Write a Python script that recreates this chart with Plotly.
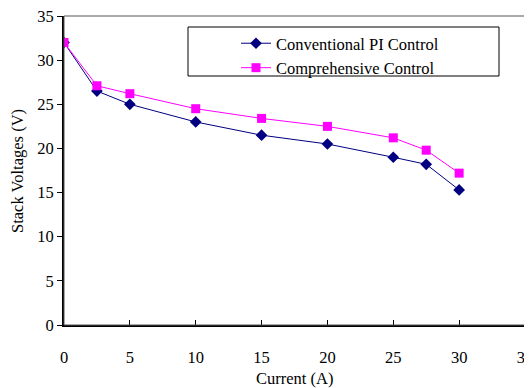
import plotly.graph_objects as go

current = [0, 2.5, 5, 10, 15, 20, 25, 27.5, 30]
conventional_pi = [32.0, 26.5, 25.0, 23.0, 21.5, 20.5, 19.0, 18.2, 15.3]
comprehensive = [32.0, 27.1, 26.2, 24.5, 23.4, 22.5, 21.2, 19.8, 17.2]
x_ticks = [0, 5, 10, 15, 20, 25, 30, 35]
y_ticks = [0, 5, 10, 15, 20, 25, 30, 35]

FONT = "Liberation Serif"
FS = 16.5

# page body has an 8px margin; work in screen coords minus 8
OFF = 8
L, R, T, B = 64 - OFF, 525 - OFF, 16 - OFF, 325 - OFF
W, H = 532, 388 - OFF

def px(sx):
    return (sx - OFF - L) / (R - L)

def py(sy):
    return (B - (sy - OFF)) / (B - T)

fig = go.Figure()
fig.add_trace(go.Scatter(
    x=current, y=conventional_pi, mode="lines+markers",
    name="Conventional PI Control",
    line=dict(color="#000080", width=1),
    marker=dict(symbol="diamond", size=9, color="#000080"),
))
fig.add_trace(go.Scatter(
    x=current, y=comprehensive, mode="lines+markers",
    name="Comprehensive Control",
    line=dict(color="#FF00FF", width=1),
    marker=dict(symbol="square", size=9, color="#FF00FF"),
))

fig.update_layout(
    width=W, height=H,
    margin=dict(l=L, r=W - R, t=T, b=H - B, autoexpand=False),
    paper_bgcolor="white", plot_bgcolor="white",
    font=dict(family=FONT, size=FS, color="black"),
    showlegend=True,
    legend=dict(
        x=px(236), y=py(26), xanchor="left", yanchor="top",
        bgcolor="rgba(0,0,0,0)", borderwidth=0,
        font=dict(family=FONT, size=FS, color="black"),
    ),
    shapes=[
        dict(type="rect", xref="paper", yref="paper", x0=0, y0=0, x1=1, y1=1,
             line=dict(color="#555555", width=1), layer="above"),
        dict(type="rect", xref="paper", yref="paper",
             x0=px(188), x1=px(499), y0=py(76), y1=py(27),
             line=dict(color="black", width=1), fillcolor="white", layer="below"),
    ],
    annotations=[
        dict(text="Current (A)", xref="paper", yref="paper",
             x=0.5, y=py(378),
             xanchor="center", yanchor="middle", showarrow=False,
             font=dict(family=FONT, size=FS)),
        dict(text="Stack Voltages (V)", xref="paper", yref="paper",
             x=px(18), y=py(171), textangle=-90,
             xanchor="center", yanchor="middle", showarrow=False,
             font=dict(family=FONT, size=FS)),
    ],
)
fig.update_xaxes(
    range=[0, 35], tickvals=x_ticks, ticktext=[str(v) for v in x_ticks],
    showgrid=False, zeroline=False, automargin=False,
    showline=True, linecolor="black", linewidth=2,
    ticks="inside", ticklen=5, tickcolor="black", tickwidth=1,
    ticklabelstandoff=16, ticklabeloverflow="allow",
)
fig.update_yaxes(
    range=[0, 35], tickvals=y_ticks, ticktext=[str(v) for v in y_ticks],
    showgrid=False, zeroline=False, automargin=False,
    showline=True, linecolor="black", linewidth=2,
    ticks="outside", ticklen=5, tickcolor="black", tickwidth=1,
    ticklabeloverflow="allow",
)

fig.write_html("out.html")
